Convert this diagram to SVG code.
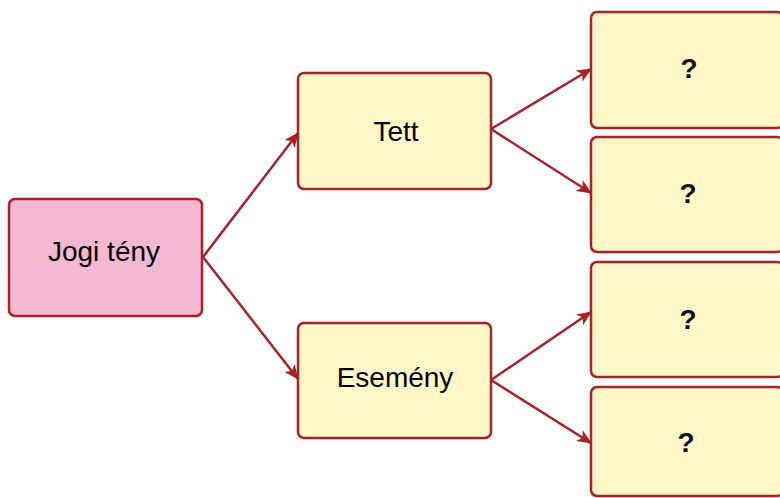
<svg xmlns="http://www.w3.org/2000/svg" width="780" height="498" viewBox="0 0 780 498">
<defs>
<marker id="ah" markerWidth="15" markerHeight="13" refX="14" refY="6.5" orient="auto" markerUnits="userSpaceOnUse">
<path d="M0,0 L15,6.5 L0,13 L4,6.5 Z" fill="#a8222a"/>
</marker>
<style>
.box{stroke:#a8222a;stroke-width:2.5}
.pink{fill:#f5b8d2}
.yel{fill:#fff7c8}
.lbl{font-family:"Liberation Sans",Arial,sans-serif;font-size:28px;fill:#000;text-anchor:middle}
.q{font-family:"Liberation Sans",Arial,sans-serif;font-size:28px;font-weight:bold;fill:#111;text-anchor:middle}
.con{stroke:#a8222a;stroke-width:2.5;fill:none;marker-end:url(#ah)}
</style>
</defs>
<rect width="780" height="498" fill="#fff"/>
<g id="connectors">
<line class="con" x1="203" y1="257" x2="298" y2="133"/>
<line class="con" x1="203" y1="257" x2="298" y2="379"/>
<line class="con" x1="491" y1="129" x2="591" y2="69"/>
<line class="con" x1="491" y1="129" x2="591" y2="193"/>
<line class="con" x1="491" y1="380" x2="591" y2="312"/>
<line class="con" x1="491" y1="380" x2="591" y2="443"/>
</g>
<g id="jogi-teny">
<rect class="box pink" x="9" y="199" width="193" height="117" rx="6"/>
<text class="lbl" x="104" y="261">Jogi tény</text>
</g>
<g id="tett">
<rect class="box yel" x="298" y="73" width="193" height="116" rx="6"/>
<text class="lbl" x="396" y="141">Tett</text>
</g>
<g id="esemeny">
<rect class="box yel" x="298" y="323" width="193" height="115" rx="6"/>
<text class="lbl" x="395" y="387">Esemény</text>
</g>
<g id="q1">
<rect class="box yel" x="591" y="12" width="192" height="116" rx="6"/>
<text class="q" x="689" y="78">?</text>
</g>
<g id="q2">
<rect class="box yel" x="591" y="137" width="192" height="115" rx="6"/>
<text class="q" x="688" y="203">?</text>
</g>
<g id="q3">
<rect class="box yel" x="591" y="262" width="192" height="115" rx="6"/>
<text class="q" x="688" y="329">?</text>
</g>
<g id="q4">
<rect class="box yel" x="591" y="387" width="192" height="109" rx="6"/>
<text class="q" x="686" y="452">?</text>
</g>
</svg>
